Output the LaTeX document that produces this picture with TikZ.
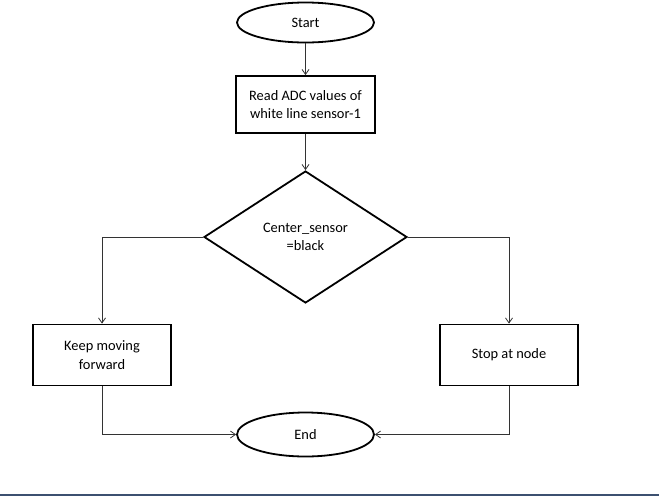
\documentclass[tikz,border=0pt]{standalone}
\usepackage{fontspec}
\setmainfont{Carlito}
\usetikzlibrary{shapes.geometric,arrows.meta}
\definecolor{barblue}{RGB}{60,80,112}
\tikzset{
  txt/.style={font=\fontsize{14.4}{18.5}\selectfont},
  term/.style={txt,draw=black,line width=1.8pt,ellipse,minimum width=137pt,minimum height=40pt,inner sep=0pt},
  proc/.style={txt,draw=black,line width=1.8pt,rectangle,inner sep=0pt,align=center},
  dec/.style={txt,draw=black,line width=1.8pt,diamond,inner sep=0pt,minimum width=203pt,minimum height=132pt,align=center},
  conn/.style={draw=black!80,line width=0.8pt,-{Straight Barb[length=5pt,width=7pt]}},
  plain/.style={draw=black!80,line width=0.8pt}
}
\begin{document}
\begin{tikzpicture}[x=1pt,y=-1pt]
\useasboundingbox (0,0) rectangle (659,496);
\fill[barblue] (0,493.5) rectangle (659,496);
\node[term] (start) at (305.5,22.5) {Start};
\node[proc,minimum width=139pt,minimum height=57pt] (read) at (305.5,104.5) {Read ADC values of\\white line sensor-1};
\node[dec] (dec) at (305.5,237) {Center\_sensor\\=black};
\node[proc,minimum width=138pt,minimum height=61pt] (keep) at (102,355) {Keep moving\\forward};
\node[proc,minimum width=138pt,minimum height=61pt] (stop) at (509,355) {Stop at node};
\node[term,minimum height=44pt] (end) at (305.5,434.5) {End};
\coordinate (lc) at (102,237);
\coordinate (rc) at (509,237);
\coordinate (lb) at (102,434.5);
\coordinate (rb) at (509,434.5);
\draw[conn] (start) -- (read);
\draw[conn] (read) -- (dec);
\draw[plain] (dec.west) -- (lc);
\draw[conn] (lc) -- (keep);
\draw[plain] (dec.east) -- (rc);
\draw[conn] (rc) -- (stop);
\draw[plain] (keep) -- (lb);
\draw[conn] (lb) -- (end);
\draw[plain] (stop) -- (rb);
\draw[conn] (rb) -- (end);
\end{tikzpicture}
\end{document}
